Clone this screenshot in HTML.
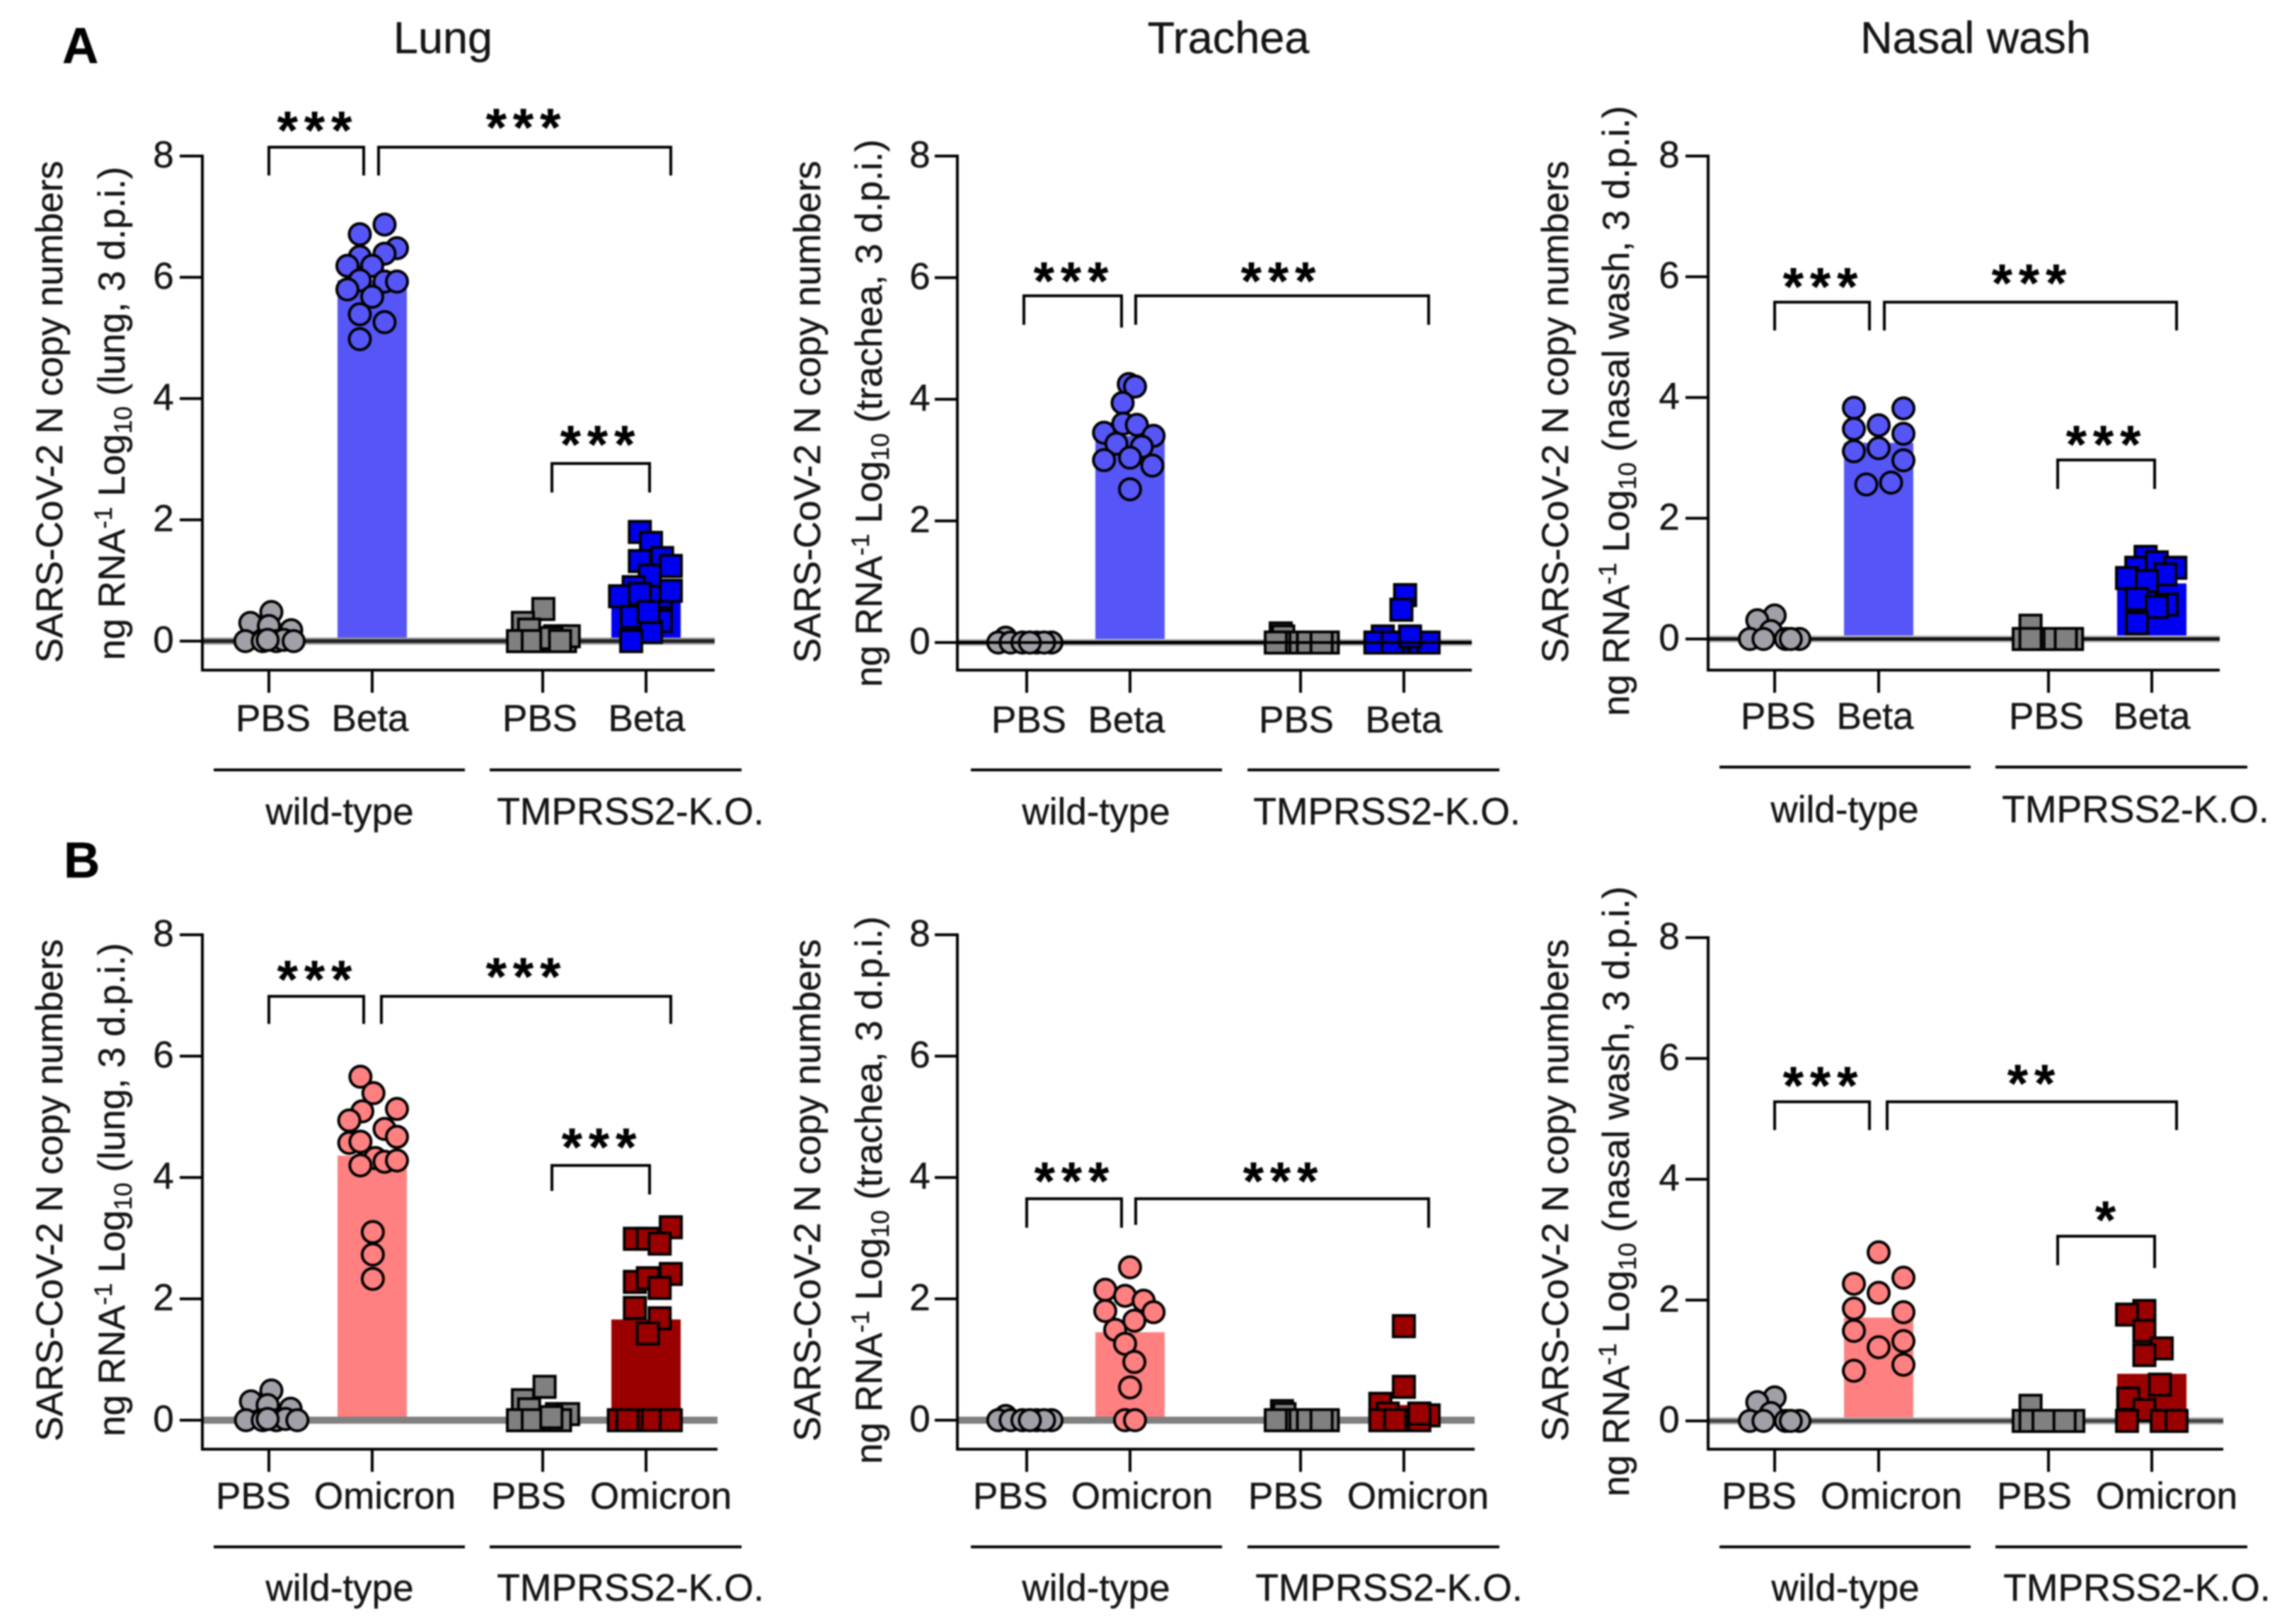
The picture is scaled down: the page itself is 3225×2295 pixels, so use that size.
<!DOCTYPE html>
<html lang="en">
<head>
<meta charset="utf-8">
<title>SARS-CoV-2 N copy numbers</title>
<style>
html,body{margin:0;padding:0;background:#fff;}
svg{display:block;width:3225px;height:2295px;background:#fff;filter:blur(1.1px);}
text{font-family:"Liberation Sans",sans-serif;fill:#151515;font-size:53px;stroke:#151515;stroke-width:0.4px;}
.title{font-size:63px;text-anchor:middle;}
.letter{font-size:71px;font-weight:bold;fill:#000;}
.mid{text-anchor:middle;}
.ko{font-size:53.5px;}
.star{font-size:75px;font-weight:bold;text-anchor:middle;letter-spacing:9px;fill:#000;}
.s{font-size:35px;}
.ln{fill:none;stroke:#000;stroke-width:4;}
</style>
</head>
<body>
<svg id="figure" xmlns="http://www.w3.org/2000/svg" width="3225" height="2295" viewBox="0 0 3225 2295">
  <text class="letter" x="88" y="89">A</text>
  <text class="letter" x="90" y="1240">B</text>
  <text class="title" x="626" y="75">Lung</text>
  <text class="title" x="1736" y="75">Trachea</text>
  <text class="title" x="2792" y="75">Nasal wash</text>

  <!-- y axis titles -->
  <text transform="translate(88,937) rotate(-90)">SARS-CoV-2 N copy numbers</text>
  <text transform="translate(176,933) rotate(-90)">ng RNA<tspan class="s" dy="-18">-1</tspan><tspan dy="18"> Log</tspan><tspan class="s" dy="10">10</tspan><tspan dy="-10"> (lung, 3 d.p.i.)</tspan></text>
  <text transform="translate(1159,937) rotate(-90)">SARS-CoV-2 N copy numbers</text>
  <text transform="translate(1246,971) rotate(-90)">ng RNA<tspan class="s" dy="-18">-1</tspan><tspan dy="18"> Log</tspan><tspan class="s" dy="10">10</tspan><tspan dy="-10"> (trachea, 3 d.p.i.)</tspan></text>
  <text transform="translate(2216,937) rotate(-90)">SARS-CoV-2 N copy numbers</text>
  <text transform="translate(2302,1012) rotate(-90)">ng RNA<tspan class="s" dy="-18">-1</tspan><tspan dy="18"> Log</tspan><tspan class="s" dy="10">10</tspan><tspan dy="-10"> (nasal wash, 3 d.p.i.)</tspan></text>
  <text transform="translate(88,2037) rotate(-90)">SARS-CoV-2 N copy numbers</text>
  <text transform="translate(176,2030) rotate(-90)">ng RNA<tspan class="s" dy="-18">-1</tspan><tspan dy="18"> Log</tspan><tspan class="s" dy="10">10</tspan><tspan dy="-10"> (lung, 3 d.p.i.)</tspan></text>
  <text transform="translate(1159,2037) rotate(-90)">SARS-CoV-2 N copy numbers</text>
  <text transform="translate(1246,2069) rotate(-90)">ng RNA<tspan class="s" dy="-18">-1</tspan><tspan dy="18"> Log</tspan><tspan class="s" dy="10">10</tspan><tspan dy="-10"> (trachea, 3 d.p.i.)</tspan></text>
  <text transform="translate(2216,2037) rotate(-90)">SARS-CoV-2 N copy numbers</text>
  <text transform="translate(2302,2115) rotate(-90)">ng RNA<tspan class="s" dy="-18">-1</tspan><tspan dy="18"> Log</tspan><tspan class="s" dy="10">10</tspan><tspan dy="-10"> (nasal wash, 3 d.p.i.)</tspan></text>

  <!-- group underlines and labels -->
  <path class="ln" d="M302 1088H657M692 1088H1048"/>
  <path class="ln" d="M1372 1088H1727M1763 1088H2119"/>
  <path class="ln" d="M2430 1084H2785M2820 1084H3176"/>
  <path class="ln" d="M302 2186H657M692 2186H1048"/>
  <path class="ln" d="M1372 2186H1727M1763 2186H2119"/>
  <path class="ln" d="M2430 2186H2785M2820 2186H3176"/>

  <text class="mid" x="480" y="1165">wild-type</text>
  <text class="mid ko" x="891" y="1165">TMPRSS2-K.O.</text>
  <text class="mid" x="1549" y="1165">wild-type</text>
  <text class="mid ko" x="1960" y="1165">TMPRSS2-K.O.</text>
  <text class="mid" x="2607" y="1162">wild-type</text>
  <text class="mid ko" x="3018" y="1162">TMPRSS2-K.O.</text>
  <text class="mid" x="480" y="2262">wild-type</text>
  <text class="mid ko" x="891" y="2262">TMPRSS2-K.O.</text>
  <text class="mid" x="1549" y="2262">wild-type</text>
  <text class="mid ko" x="1963" y="2262">TMPRSS2-K.O.</text>
  <text class="mid" x="2608" y="2262">wild-type</text>
  <text class="mid ko" x="3020" y="2262">TMPRSS2-K.O.</text>

  <!-- significance brackets -->
  <path class="ln" d="M380 248V208H514V248M535 248V208H948V248M780 696V655H918V696"/>
  <path class="ln" d="M1447 459V418H1585V463M1605 459V418H2019V459"/>
  <path class="ln" d="M2508 467V427H2642V467M2663 467V427H3076V467M2908 691V650H3045V691"/>
  <path class="ln" d="M380 1447V1408H514V1447M539 1447V1408H948V1447M780 1683V1647H918V1688"/>
  <path class="ln" d="M1451 1735V1694H1585V1735M1605 1731V1694H2019V1735"/>
  <path class="ln" d="M2508 1597V1557H2642V1597M2667 1597V1557H3076V1597M2908 1788V1747H3045V1792"/>

  <g transform="translate(0,-6)">
  <text class="star" x="449" y="216">***</text>
  <text class="star" x="744" y="212">***</text>
  <text class="star" x="849" y="660">***</text>
  <text class="star" x="1518" y="429">***</text>
  <text class="star" x="1811" y="429">***</text>
  <text class="star" x="2577" y="437">***</text>
  <text class="star" x="2872" y="432">***</text>
  <text class="star" x="2977" y="660">***</text>
  <text class="star" x="449" y="1416">***</text>
  <text class="star" x="744" y="1412">***</text>
  <text class="star" x="851" y="1653">***</text>
  <text class="star" x="1519" y="1701">***</text>
  <text class="star" x="1814" y="1701">***</text>
  <text class="star" x="2577" y="1566">***</text>
  <text class="star" x="2875" y="1563">**</text>
  <text class="star" x="2980" y="1756">*</text>
  </g>
</svg>

<script>
// ---- shared axis data ----
const yTickValues = [0, 2, 4, 6, 8];
const betaCategories = ["PBS", "Beta", "PBS", "Beta"];
const omicronCategories = ["PBS", "Omicron", "PBS", "Omicron"];

// ---- bar means (log10 copies) ----
const aLungMeans = [0.08, 5.95, 0.08, 0.65];
const aTracheaMeans = [0.02, 3.4, 0.03, 0.12];
const aNasalMeans = [0.07, 3.25, 0.04, 0.92];
const bLungMeans = [0.08, 4.36, 0.08, 1.66];
const bTracheaMeans = [0.02, 1.45, 0.03, 0.25];
const bNasalMeans = [0.07, 1.71, 0.04, 0.78];

// ---- point values; the *Swarm arrays hold each point's swarm column (in marker slots) ----
const aLungWtPbs = [0.48, 0.30, 0.25, 0.18, 0, 0, 0, 0.02, 0, 0.02];
const aLungWtPbsSwarm = [0.2, -1.5, 0, 1.8, -1.9, -0.5, 0.6, 1.2, 2, -0.1];
const aLungWtBeta = [6.87, 6.71, 6.48, 6.39, 6.34, 6.19, 6.19, 5.95, 5.93, 5.93, 5.80, 5.68, 5.39, 5.26, 4.98];
const aLungWtBetaSwarm = [1, -1, 2, 1, -1, -2, 0, -1, 1, 2, -2, 0, -1, 1, -1];
const aLungKoPbs = [0.53, 0.30, 0.19, 0, 0, 0.08, 0, 0.08, 0, 0.05, 0];
const aLungKoPbsSwarm = [0.05, -1.6, -1.1, -2, 0.1, 1, 1.8, 2.1, -0.8, 0.7, 1.4];
const aLungKoBeta = [1.80, 1.62, 1.32, 1.37, 1.24, 1.08, 0.89, 0.74, 0.78, 0.73, 0.83, 0.40, 0.33, 0.15, 0, 0.48];
const aLungKoBetaSwarm = [-0.5, 0.4, -0.5, 1.3, 2, 0.3, -1, -2.1, -0.5, 1.2, 2, -1.15, 1.2, 0.4, -1.2, 0.2];

const aTracheaWtPbs = [0.08, 0, 0, 0, 0, 0, 0, 0];
const aTracheaWtPbsSwarm = [-1.7, -2.3, -1.3, -0.35, 0.8, 2, 1.4, 0.25];
const aTracheaWtBeta = [4.25, 4.21, 3.94, 3.60, 3.58, 3.45, 3.40, 3.27, 3.22, 3.04, 3.00, 2.91, 2.52];
const aTracheaWtBetaSwarm = [-0.1, 0.4, -0.6, -0.55, 0.55, -2.1, 1.9, -1.1, 0.95, 0, -2.1, 1.8, 0];
const aTracheaKoPbs = [0.15, 0.1, 0, 0, 0, 0, 0, 0, 0];
const aTracheaKoPbsSwarm = [-1.6, -1.4, -0.4, 1.2, 2.2, -2, 0, 0.6, 1.7];
const aTracheaKoBeta = [0.78, 0.54, 0.10, 0, 0, 0, 0, 0, 0, 0.1];
const aTracheaKoBetaSwarm = [0.1, -0.2, -1.7, -2.3, 0.7, 1.3, 2, -0.5, -0.9, 0.5];

const aNasalWtPbs = [0.39, 0.31, 0.13, 0, 0, 0, 0, 0];
const aNasalWtPbsSwarm = [0, -1.4, -0.3, -2, -0.9, 0.9, 2, 1.3];
const aNasalWtBeta = [3.83, 3.82, 3.54, 3.48, 3.40, 3.16, 3.11, 2.96, 2.56, 2.59];
const aNasalWtBetaSwarm = [-2, 2, 0, -2, 2, 0, -2, 2, -1, 1];
const aNasalKoPbs = [0.22, 0, 0, 0, 0, 0, 0, 0, 0];
const aNasalKoPbsSwarm = [-1.45, -2, -1, 0, 0.9, 1.9, -1.45, 0.5, 1.4];
const aNasalKoBeta = [1.36, 1.18, 1.27, 1.18, 1.07, 1.01, 0.96, 0.66, 0.57, 0.53, 0.26];
const aNasalKoBetaSwarm = [-0.5, -1.25, 0.4, 1.9, 1.1, -2, -0.4, -1.2, 1.2, 0.4, -1.2];

const bLungWtPbs = [0.49, 0.31, 0.25, 0.19, 0, 0, 0, 0.02, 0, 0.02];
const bLungWtPbsSwarm = [0.2, -1.45, -0.1, 1.75, -1.85, -0.5, 0.6, 1.35, 2.3, -0.1];
const bLungWtOmicron = [5.66, 5.39, 5.09, 4.94, 5.13, 4.80, 4.67, 4.57, 4.59, 4.32, 4.20, 4.26, 4.28, 3.10, 2.73, 2.33];
const bLungWtOmicronSwarm = [-0.95, 0.1, -0.8, -1.85, 2, 1, 2, -1.85, -0.95, 0.25, -0.95, 1, 2, 0.05, 0.05, 0.05];
const bLungKoPbs = [0.55, 0.33, 0.18, 0, 0, 0.1, 0.1, 0, 0, 0.05];
const bLungKoPbsSwarm = [0.15, -1.6, -1.1, -2, 0.2, 1.15, 2.05, 1.4, -0.8, 0.7];
const bLungKoOmicron = [3.18, 2.99, 2.99, 2.91, 2.28, 2.34, 2.41, 2.18, 1.85, 1.68, 1.43, 0, 0, 0, 0, 0];
const bLungKoOmicronSwarm = [2, -0.9, 0.15, 1.1, -0.9, 0.15, 2, 1.1, -0.9, 1.1, 0.15, -2.2, -0.9, 0.55, 2, -1.5];

const bTracheaWtPbs = [0.07, 0, 0, 0, 0, 0, 0, 0];
const bTracheaWtPbsSwarm = [-1.7, -2.3, -1.3, -0.35, 0.8, 2, 1.4, 0.25];
const bTracheaWtOmicron = [2.52, 2.15, 2.05, 1.97, 1.80, 1.78, 1.64, 1.49, 1.26, 0.96, 0.54, 0, 0];
const bTracheaWtOmicronSwarm = [0, -2, -0.4, 1.1, -2, 1.9, 0.35, -1.2, -0.4, 0.35, 0, -0.4, 0.4];
const bTracheaKoPbs = [0.15, 0.1, 0, 0, 0, 0, 0, 0, 0];
const bTracheaKoPbsSwarm = [-1.5, -1.3, -0.4, 1.2, 2.2, -2, 0, 0.6, 1.7];
const bTracheaKoOmicron = [1.55, 0.55, 0.27, 0.11, 0.08, 0, 0, 0, 0, 0.11];
const bTracheaKoOmicronSwarm = [0, 0, -1.9, -1.3, 2, 0.6, -1.9, -0.7, 1.25, 1.25];

const bNasalWtPbs = [0.39, 0.31, 0.13, 0, 0, 0, 0, 0];
const bNasalWtPbsSwarm = [0, -1.4, -0.3, -2, -0.9, 0.9, 2, 1.3];
const bNasalWtOmicron = [2.79, 2.27, 2.37, 2.12, 1.86, 1.80, 1.49, 1.32, 1.22, 0.93, 0.83];
const bNasalWtOmicronSwarm = [0, -2, 2, 0, -2, 2, -2, 2, 0, 2, -2];
const bNasalKoPbs = [0.25, 0, 0, 0, 0, 0, 0, 0];
const bNasalKoPbsSwarm = [-1.45, -2, -1, 0.5, 2, -1.45, -0.4, 1.3];
const bNasalKoOmicron = [1.82, 1.76, 1.49, 1.20, 1.09, 0.60, 0.37, 0.18, 0, 0, 0];
const bNasalKoOmicronSwarm = [-0.6, -2, -0.6, 0.8, -0.6, 0.65, -1.9, -0.6, -2, 0.8, 2];

// ---- panel layout (separate from the data) ----
const NS = 'http://www.w3.org/2000/svg';
const SLOT = 17.5;
const BAR_W = 98;
const MARKER = 30;
const BETA_COLORS = ['#a0a0a8', '#5656f8', '#808080', '#0000f0'];
const OMICRON_COLORS = ['#a0a0a8', '#ff8080', '#808080', '#9b0000'];

const panels = [
  {name:'a-lung', axisX:286, right:1010, top:220.5, y0:906, axisY:947, tickX:[380,526,767,913], labelX:[386,523,763,914], labelY:1033, yLabelX:231, cats:betaCategories, colors:BETA_COLORS, means:aLungMeans,
   groups:[[aLungWtPbs,aLungWtPbsSwarm],[aLungWtBeta,aLungWtBetaSwarm],[aLungKoPbs,aLungKoPbsSwarm],[aLungKoBeta,aLungKoBetaSwarm]], halo:'#999', line:'#222', over:false},
  {name:'a-trachea', axisX:1353, right:2080, top:220.5, y0:908, axisY:947, tickX:[1451,1597,1838,1984], labelX:[1454,1592,1832,1984], labelY:1035, yLabelX:1300, cats:betaCategories, colors:BETA_COLORS, means:aTracheaMeans,
   groups:[[aTracheaWtPbs,aTracheaWtPbsSwarm],[aTracheaWtBeta,aTracheaWtBetaSwarm],[aTracheaKoPbs,aTracheaKoPbsSwarm],[aTracheaKoBeta,aTracheaKoBetaSwarm]], halo:'#bbb', line:'#000', over:true},
  {name:'a-nasal', axisX:2414, right:3137, top:220.5, y0:903, axisY:947, tickX:[2508,2655,2895,3041], labelX:[2513,2650,2892,3041], labelY:1030, yLabelX:2359, cats:betaCategories, colors:BETA_COLORS, means:aNasalMeans,
   groups:[[aNasalWtPbs,aNasalWtPbsSwarm],[aNasalWtBeta,aNasalWtBetaSwarm],[aNasalKoPbs,aNasalKoPbsSwarm],[aNasalKoBeta,aNasalKoBetaSwarm]], halo:'#bbb', line:'#111', over:false},
  {name:'b-lung', axisX:286, right:1014, top:1321, y0:2007, axisY:2048, tickX:[380,526,767,913], labelX:[358,544,747,934], labelY:2132, yLabelX:231, cats:omicronCategories, colors:OMICRON_COLORS, means:bLungMeans,
   groups:[[bLungWtPbs,bLungWtPbsSwarm],[bLungWtOmicron,bLungWtOmicronSwarm],[bLungKoPbs,bLungKoPbsSwarm],[bLungKoOmicron,bLungKoOmicronSwarm]], halo:'#808080', line:'#808080', over:false},
  {name:'b-trachea', axisX:1353, right:2084, top:1321, y0:2007, axisY:2048, tickX:[1451,1597,1838,1984], labelX:[1428,1614,1817,2004], labelY:2132, yLabelX:1300, cats:omicronCategories, colors:OMICRON_COLORS, means:bTracheaMeans,
   groups:[[bTracheaWtPbs,bTracheaWtPbsSwarm],[bTracheaWtOmicron,bTracheaWtOmicronSwarm],[bTracheaKoPbs,bTracheaKoPbsSwarm],[bTracheaKoOmicron,bTracheaKoOmicronSwarm]], halo:'#808080', line:'#808080', over:false},
  {name:'b-nasal', axisX:2414, right:3142, top:1325, y0:2008, axisY:2048, tickX:[2508,2655,2895,3041], labelX:[2486,2673,2875,3062], labelY:2132, yLabelX:2359, cats:omicronCategories, colors:OMICRON_COLORS, means:bNasalMeans,
   groups:[[bNasalWtPbs,bNasalWtPbsSwarm],[bNasalWtOmicron,bNasalWtOmicronSwarm],[bNasalKoPbs,bNasalKoPbsSwarm],[bNasalKoOmicron,bNasalKoOmicronSwarm]], halo:'#aaa', line:'#444', over:false}
];

function mk(tag, parent, attrs) {
  const el = document.createElementNS(NS, tag);
  for (const k in attrs) el.setAttribute(k, attrs[k]);
  parent.appendChild(el);
  return el;
}

const root = document.getElementById('figure');

panels.forEach(function (p) {
  const g = mk('g', root, {});
  
  

  const yScale = function (v) { return p.y0 - v * (p.y0 - p.top) / 8; };
  const xScale = function (groupIndex, swarm) { return p.tickX[groupIndex] + swarm * SLOT; };

  // bars
  p.means.forEach(function (m, i) {
    const bar = mk('rect', g, {x: xScale(i, 0) - BAR_W / 2, y: yScale(m), width: BAR_W, height: yScale(0) - yScale(m), fill: p.colors[i]});
    
    
  });

  // zero line under the markers
  const halo = mk('line', g, {x1: p.axisX, x2: p.right, y1: yScale(0), y2: yScale(0), stroke: p.halo, 'stroke-width': 10});
  
  
  const zero = mk('line', g, {x1: p.axisX, x2: p.right, y1: yScale(0), y2: yScale(0), stroke: p.line, 'stroke-width': 5});
  
  

  // points
  p.groups.forEach(function (pair, i) {
    const values = pair[0];
    const swarm = pair[1];
    values.forEach(function (v, k) {
      const cx = xScale(i, swarm[k]);
      const cy = yScale(v);
      let mark;
      if (i < 2) {
        mark = mk('circle', g, {cx: cx, cy: cy, r: MARKER / 2, fill: p.colors[i], stroke: '#000', 'stroke-width': 4});
      } else {
        mark = mk('rect', g, {x: cx - MARKER / 2, y: cy - MARKER / 2, width: MARKER, height: MARKER, fill: p.colors[i], stroke: '#000', 'stroke-width': 4});
      }
      
      
    });
  });

  if (p.over) {
    const top = mk('line', g, {x1: p.axisX, x2: p.right, y1: yScale(0), y2: yScale(0), stroke: '#000', 'stroke-width': 4});
    
    
  }

  // axes
  const yAxis = mk('line', g, {x1: p.axisX, x2: p.axisX, y1: yScale(8) - 2, y2: p.axisY + 2, stroke: '#000', 'stroke-width': 4});
  
  
  const xAxis = mk('line', g, {x1: p.axisX, x2: p.right, y1: p.axisY, y2: p.axisY, stroke: '#000', 'stroke-width': 4});
  
  

  yTickValues.forEach(function (t) {
    const tick = mk('line', g, {x1: p.axisX - 32, x2: p.axisX, y1: yScale(t), y2: yScale(t), stroke: '#000', 'stroke-width': 4});
    
    
    const label = mk('text', g, {x: p.yLabelX, y: yScale(t) + 16, 'text-anchor': 'middle'});
    label.textContent = String(t);
    
    
  });

  p.cats.forEach(function (c, i) {
    const tick = mk('line', g, {x1: p.tickX[i], x2: p.tickX[i], y1: p.axisY, y2: p.axisY + 32, stroke: '#000', 'stroke-width': 4});
    
    
    const label = mk('text', g, {x: p.labelX[i], y: p.labelY, 'text-anchor': 'middle'});
    label.textContent = c;
    
    
  });
});
</script>
</body>
</html>
